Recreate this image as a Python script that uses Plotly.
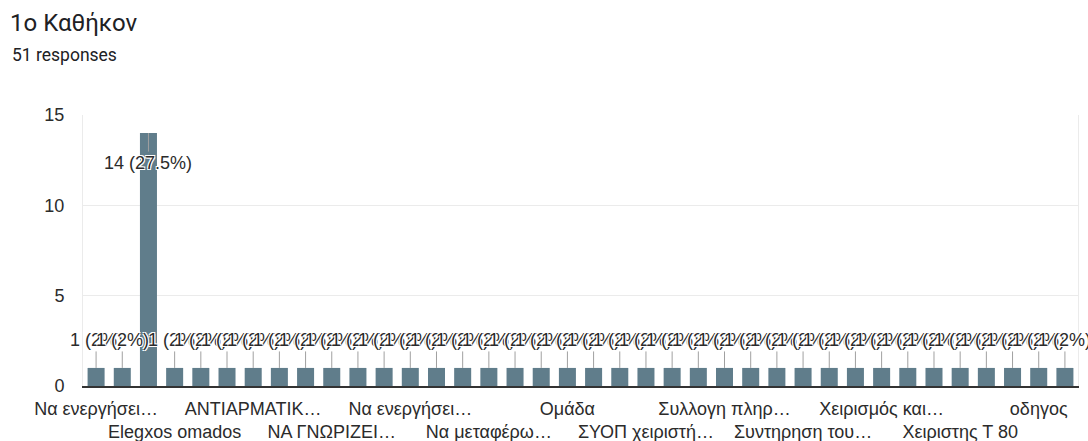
import plotly.graph_objects as go

# Answer counts per option (38 options, 51 responses in total)
counts = [1, 1, 14] + [1] * 35

# Option names shown along the axis (every third option gets a label)
tick_labels = [
    "Να ενεργήσει…", "Elegxos omados", "ΑΝΤΙΑΡΜΑΤΙΚ…", "ΝΑ ΓΝΩΡΙΖΕΙ…",
    "Να ενεργήσει…", "Να μεταφέρω…", "Ομάδα", "ΣΥΟΠ χειριστή…",
    "Συλλογη πληρ…", "Συντηρηση του…", "Χειρισμός και…", "Χειριστης Τ 80",
    "οδηγος",
]
label_every = 3

title_text = "1ο Καθήκον"
total = sum(counts)
subtitle_text = f"{total} responses"

W, H = 1088, 441
M = dict(l=83, r=10, t=115, b=55)

BAR = "#607d8b"
TEXT = "#2b2b2b"
GRID = "#ebebeb"
FONT = "Liberation Sans, Arial, sans-serif"
HALO = "-1px -1px 0 #fff, 1px -1px 0 #fff, -1px 1px 0 #fff, 1px 1px 0 #fff"

x = list(range(len(counts)))

fig = go.Figure(
    go.Bar(x=x, y=counts, marker=dict(color=BAR, line=dict(width=0)),
           width=0.65, hoverinfo="skip")
)

# value labels with short leader lines down to each bar
for xi, v in zip(x, counts):
    pct = round(v / total * 100, 1)
    inside = v > 10
    fig.add_annotation(
        x=xi, y=v, xref="x", yref="y",
        text=f"{v} ({pct:g}%)",
        showarrow=True, arrowhead=0, arrowwidth=1, arrowcolor="#a0a0a0",
        ax=0, ay=30 if inside else -28,
        font=dict(family=FONT, size=18, color=TEXT, shadow=HALO),
    )

# response count under the heading, placed in pixel terms of the page
plot_w = W - M["l"] - M["r"]
plot_h = H - M["t"] - M["b"]
fig.add_annotation(
    text=subtitle_text, showarrow=False,
    xref="paper", yref="paper",
    x=(10 - M["l"]) / plot_w, xanchor="left",
    y=(H - M["b"] - 55) / plot_h, yanchor="middle",
    font=dict(family="Roboto, sans-serif", size=17.5, color="#202124"),
)

tickvals = x[::label_every][: len(tick_labels)]
ticktext = [t if i % 2 == 0 else "<br>" + t for i, t in enumerate(tick_labels)]

fig.update_layout(
    width=W, height=H,
    margin=M,
    paper_bgcolor="white", plot_bgcolor="white",
    showlegend=False,
    bargap=0.35,
    font=dict(family=FONT, size=18, color=TEXT),
    title=dict(
        text=title_text,
        font=dict(family="Roboto, sans-serif", size=24, color="#202124"),
        xref="container", yref="container",
        x=10 / W, xanchor="left", y=1 - 14 / H, yanchor="top",
    ),
    xaxis=dict(
        range=[-0.5, len(counts) - 0.5],
        tickvals=tickvals, ticktext=ticktext, tickangle=0,
        showgrid=False, zeroline=False, automargin=False,
        showline=True, linecolor="#333333", linewidth=2,
        ticks="", ticklabelstandoff=5,
        tickfont=dict(family=FONT, size=18, color=TEXT),
    ),
    yaxis=dict(
        range=[0, 15], tickvals=[0, 5, 10, 15],
        showgrid=True, gridcolor=GRID, gridwidth=1, automargin=False,
        zeroline=False, showline=True, linecolor=GRID, mirror=True,
        ticks="", ticklabelstandoff=14,
        tickfont=dict(family=FONT, size=18, color=TEXT),
    ),
)

fig.write_html("out.html")
